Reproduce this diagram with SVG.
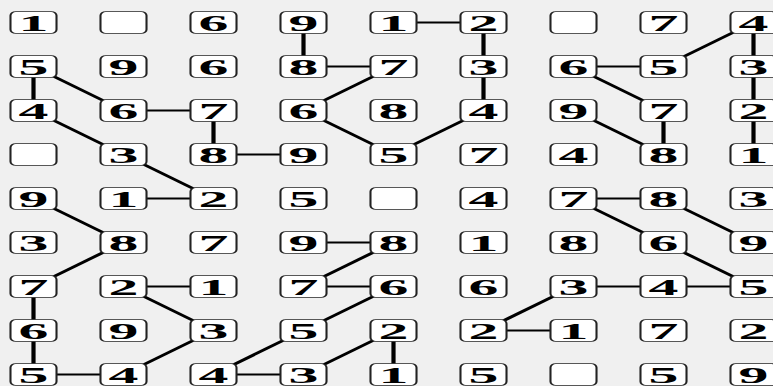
<svg xmlns="http://www.w3.org/2000/svg" xmlns:xlink="http://www.w3.org/1999/xlink" width="773" height="386" viewBox="0 0 773 386">
<style>
.c line{stroke:#000;stroke-linecap:butt}
.v{stroke-width:4.2}
.h{stroke-width:2.2}
.d{stroke-width:3}
.t{font-family:"Liberation Serif","Times New Roman",serif;font-weight:bold;font-size:23px;text-anchor:middle;fill:#000}
</style>
<defs>
<g id="box" transform="scale(2.6,1)"><rect x="-8.85" y="-10.9" width="17.7" height="21.8" rx="2" ry="4" fill="#fff" stroke="#222" stroke-width="0.8"/></g>
</defs>
<rect width="773" height="386" fill="#f0f0f0"/>
<g id="connectors" class="c">
<line class="v" x1="303.5" y1="22.5" x2="303.5" y2="66.5"/>
<line class="v" x1="483.5" y1="22.5" x2="483.5" y2="66.5"/>
<line class="v" x1="753.5" y1="22.5" x2="753.5" y2="66.5"/>
<line class="v" x1="33.5" y1="66.5" x2="33.5" y2="110.5"/>
<line class="v" x1="483.5" y1="66.5" x2="483.5" y2="110.5"/>
<line class="v" x1="753.5" y1="66.5" x2="753.5" y2="110.5"/>
<line class="v" x1="213.5" y1="110.5" x2="213.5" y2="154.5"/>
<line class="v" x1="663.5" y1="110.5" x2="663.5" y2="154.5"/>
<line class="v" x1="753.5" y1="110.5" x2="753.5" y2="154.5"/>
<line class="v" x1="33.5" y1="286.5" x2="33.5" y2="330.5"/>
<line class="v" x1="33.5" y1="330.5" x2="33.5" y2="374.5"/>
<line class="v" x1="393.5" y1="330.5" x2="393.5" y2="374.5"/>
<line class="h" x1="393.5" y1="22.5" x2="483.5" y2="22.5"/>
<line class="h" x1="303.5" y1="66.5" x2="393.5" y2="66.5"/>
<line class="h" x1="573.5" y1="66.5" x2="663.5" y2="66.5"/>
<line class="h" x1="123.5" y1="110.5" x2="213.5" y2="110.5"/>
<line class="h" x1="213.5" y1="154.5" x2="303.5" y2="154.5"/>
<line class="h" x1="123.5" y1="198.5" x2="213.5" y2="198.5"/>
<line class="h" x1="573.5" y1="198.5" x2="663.5" y2="198.5"/>
<line class="h" x1="303.5" y1="242.5" x2="393.5" y2="242.5"/>
<line class="h" x1="123.5" y1="286.5" x2="213.5" y2="286.5"/>
<line class="h" x1="303.5" y1="286.5" x2="393.5" y2="286.5"/>
<line class="h" x1="573.5" y1="286.5" x2="663.5" y2="286.5"/>
<line class="h" x1="663.5" y1="286.5" x2="753.5" y2="286.5"/>
<line class="h" x1="483.5" y1="330.5" x2="573.5" y2="330.5"/>
<line class="h" x1="33.5" y1="374.5" x2="123.5" y2="374.5"/>
<line class="h" x1="213.5" y1="374.5" x2="303.5" y2="374.5"/>
<line class="d" x1="753.5" y1="22.5" x2="663.5" y2="66.5"/>
<line class="d" x1="33.5" y1="66.5" x2="123.5" y2="110.5"/>
<line class="d" x1="393.5" y1="66.5" x2="303.5" y2="110.5"/>
<line class="d" x1="573.5" y1="66.5" x2="663.5" y2="110.5"/>
<line class="d" x1="33.5" y1="110.5" x2="123.5" y2="154.5"/>
<line class="d" x1="303.5" y1="110.5" x2="393.5" y2="154.5"/>
<line class="d" x1="483.5" y1="110.5" x2="393.5" y2="154.5"/>
<line class="d" x1="573.5" y1="110.5" x2="663.5" y2="154.5"/>
<line class="d" x1="123.5" y1="154.5" x2="213.5" y2="198.5"/>
<line class="d" x1="33.5" y1="198.5" x2="123.5" y2="242.5"/>
<line class="d" x1="573.5" y1="198.5" x2="663.5" y2="242.5"/>
<line class="d" x1="663.5" y1="198.5" x2="753.5" y2="242.5"/>
<line class="d" x1="123.5" y1="242.5" x2="33.5" y2="286.5"/>
<line class="d" x1="393.5" y1="242.5" x2="303.5" y2="286.5"/>
<line class="d" x1="663.5" y1="242.5" x2="753.5" y2="286.5"/>
<line class="d" x1="123.5" y1="286.5" x2="213.5" y2="330.5"/>
<line class="d" x1="393.5" y1="286.5" x2="303.5" y2="330.5"/>
<line class="d" x1="573.5" y1="286.5" x2="483.5" y2="330.5"/>
<line class="d" x1="213.5" y1="330.5" x2="123.5" y2="374.5"/>
<line class="d" x1="303.5" y1="330.5" x2="213.5" y2="374.5"/>
<line class="d" x1="393.5" y1="330.5" x2="303.5" y2="374.5"/>
</g>
<g id="n00" transform="translate(33.5,22.5)"><use xlink:href="#box"/><text class="t" y="8" transform="scale(2.6,1)">1</text></g>
<g id="n01" transform="translate(123.5,22.5)"><use xlink:href="#box"/></g>
<g id="n02" transform="translate(213.5,22.5)"><use xlink:href="#box"/><text class="t" y="8" transform="scale(2.6,1)">6</text></g>
<g id="n03" transform="translate(303.5,22.5)"><use xlink:href="#box"/><text class="t" y="8" transform="scale(2.6,1)">9</text></g>
<g id="n04" transform="translate(393.5,22.5)"><use xlink:href="#box"/><text class="t" y="8" transform="scale(2.6,1)">1</text></g>
<g id="n05" transform="translate(483.5,22.5)"><use xlink:href="#box"/><text class="t" y="8" transform="scale(2.6,1)">2</text></g>
<g id="n06" transform="translate(573.5,22.5)"><use xlink:href="#box"/></g>
<g id="n07" transform="translate(663.5,22.5)"><use xlink:href="#box"/><text class="t" y="8" transform="scale(2.6,1)">7</text></g>
<g id="n08" transform="translate(753.5,22.5)"><use xlink:href="#box"/><text class="t" y="8" transform="scale(2.6,1)">4</text></g>
<g id="n10" transform="translate(33.5,66.5)"><use xlink:href="#box"/><text class="t" y="8" transform="scale(2.6,1)">5</text></g>
<g id="n11" transform="translate(123.5,66.5)"><use xlink:href="#box"/><text class="t" y="8" transform="scale(2.6,1)">9</text></g>
<g id="n12" transform="translate(213.5,66.5)"><use xlink:href="#box"/><text class="t" y="8" transform="scale(2.6,1)">6</text></g>
<g id="n13" transform="translate(303.5,66.5)"><use xlink:href="#box"/><text class="t" y="8" transform="scale(2.6,1)">8</text></g>
<g id="n14" transform="translate(393.5,66.5)"><use xlink:href="#box"/><text class="t" y="8" transform="scale(2.6,1)">7</text></g>
<g id="n15" transform="translate(483.5,66.5)"><use xlink:href="#box"/><text class="t" y="8" transform="scale(2.6,1)">3</text></g>
<g id="n16" transform="translate(573.5,66.5)"><use xlink:href="#box"/><text class="t" y="8" transform="scale(2.6,1)">6</text></g>
<g id="n17" transform="translate(663.5,66.5)"><use xlink:href="#box"/><text class="t" y="8" transform="scale(2.6,1)">5</text></g>
<g id="n18" transform="translate(753.5,66.5)"><use xlink:href="#box"/><text class="t" y="8" transform="scale(2.6,1)">3</text></g>
<g id="n20" transform="translate(33.5,110.5)"><use xlink:href="#box"/><text class="t" y="8" transform="scale(2.6,1)">4</text></g>
<g id="n21" transform="translate(123.5,110.5)"><use xlink:href="#box"/><text class="t" y="8" transform="scale(2.6,1)">6</text></g>
<g id="n22" transform="translate(213.5,110.5)"><use xlink:href="#box"/><text class="t" y="8" transform="scale(2.6,1)">7</text></g>
<g id="n23" transform="translate(303.5,110.5)"><use xlink:href="#box"/><text class="t" y="8" transform="scale(2.6,1)">6</text></g>
<g id="n24" transform="translate(393.5,110.5)"><use xlink:href="#box"/><text class="t" y="8" transform="scale(2.6,1)">8</text></g>
<g id="n25" transform="translate(483.5,110.5)"><use xlink:href="#box"/><text class="t" y="8" transform="scale(2.6,1)">4</text></g>
<g id="n26" transform="translate(573.5,110.5)"><use xlink:href="#box"/><text class="t" y="8" transform="scale(2.6,1)">9</text></g>
<g id="n27" transform="translate(663.5,110.5)"><use xlink:href="#box"/><text class="t" y="8" transform="scale(2.6,1)">7</text></g>
<g id="n28" transform="translate(753.5,110.5)"><use xlink:href="#box"/><text class="t" y="8" transform="scale(2.6,1)">2</text></g>
<g id="n30" transform="translate(33.5,154.5)"><use xlink:href="#box"/></g>
<g id="n31" transform="translate(123.5,154.5)"><use xlink:href="#box"/><text class="t" y="8" transform="scale(2.6,1)">3</text></g>
<g id="n32" transform="translate(213.5,154.5)"><use xlink:href="#box"/><text class="t" y="8" transform="scale(2.6,1)">8</text></g>
<g id="n33" transform="translate(303.5,154.5)"><use xlink:href="#box"/><text class="t" y="8" transform="scale(2.6,1)">9</text></g>
<g id="n34" transform="translate(393.5,154.5)"><use xlink:href="#box"/><text class="t" y="8" transform="scale(2.6,1)">5</text></g>
<g id="n35" transform="translate(483.5,154.5)"><use xlink:href="#box"/><text class="t" y="8" transform="scale(2.6,1)">7</text></g>
<g id="n36" transform="translate(573.5,154.5)"><use xlink:href="#box"/><text class="t" y="8" transform="scale(2.6,1)">4</text></g>
<g id="n37" transform="translate(663.5,154.5)"><use xlink:href="#box"/><text class="t" y="8" transform="scale(2.6,1)">8</text></g>
<g id="n38" transform="translate(753.5,154.5)"><use xlink:href="#box"/><text class="t" y="8" transform="scale(2.6,1)">1</text></g>
<g id="n40" transform="translate(33.5,198.5)"><use xlink:href="#box"/><text class="t" y="8" transform="scale(2.6,1)">9</text></g>
<g id="n41" transform="translate(123.5,198.5)"><use xlink:href="#box"/><text class="t" y="8" transform="scale(2.6,1)">1</text></g>
<g id="n42" transform="translate(213.5,198.5)"><use xlink:href="#box"/><text class="t" y="8" transform="scale(2.6,1)">2</text></g>
<g id="n43" transform="translate(303.5,198.5)"><use xlink:href="#box"/><text class="t" y="8" transform="scale(2.6,1)">5</text></g>
<g id="n44" transform="translate(393.5,198.5)"><use xlink:href="#box"/></g>
<g id="n45" transform="translate(483.5,198.5)"><use xlink:href="#box"/><text class="t" y="8" transform="scale(2.6,1)">4</text></g>
<g id="n46" transform="translate(573.5,198.5)"><use xlink:href="#box"/><text class="t" y="8" transform="scale(2.6,1)">7</text></g>
<g id="n47" transform="translate(663.5,198.5)"><use xlink:href="#box"/><text class="t" y="8" transform="scale(2.6,1)">8</text></g>
<g id="n48" transform="translate(753.5,198.5)"><use xlink:href="#box"/><text class="t" y="8" transform="scale(2.6,1)">3</text></g>
<g id="n50" transform="translate(33.5,242.5)"><use xlink:href="#box"/><text class="t" y="8" transform="scale(2.6,1)">3</text></g>
<g id="n51" transform="translate(123.5,242.5)"><use xlink:href="#box"/><text class="t" y="8" transform="scale(2.6,1)">8</text></g>
<g id="n52" transform="translate(213.5,242.5)"><use xlink:href="#box"/><text class="t" y="8" transform="scale(2.6,1)">7</text></g>
<g id="n53" transform="translate(303.5,242.5)"><use xlink:href="#box"/><text class="t" y="8" transform="scale(2.6,1)">9</text></g>
<g id="n54" transform="translate(393.5,242.5)"><use xlink:href="#box"/><text class="t" y="8" transform="scale(2.6,1)">8</text></g>
<g id="n55" transform="translate(483.5,242.5)"><use xlink:href="#box"/><text class="t" y="8" transform="scale(2.6,1)">1</text></g>
<g id="n56" transform="translate(573.5,242.5)"><use xlink:href="#box"/><text class="t" y="8" transform="scale(2.6,1)">8</text></g>
<g id="n57" transform="translate(663.5,242.5)"><use xlink:href="#box"/><text class="t" y="8" transform="scale(2.6,1)">6</text></g>
<g id="n58" transform="translate(753.5,242.5)"><use xlink:href="#box"/><text class="t" y="8" transform="scale(2.6,1)">9</text></g>
<g id="n60" transform="translate(33.5,286.5)"><use xlink:href="#box"/><text class="t" y="8" transform="scale(2.6,1)">7</text></g>
<g id="n61" transform="translate(123.5,286.5)"><use xlink:href="#box"/><text class="t" y="8" transform="scale(2.6,1)">2</text></g>
<g id="n62" transform="translate(213.5,286.5)"><use xlink:href="#box"/><text class="t" y="8" transform="scale(2.6,1)">1</text></g>
<g id="n63" transform="translate(303.5,286.5)"><use xlink:href="#box"/><text class="t" y="8" transform="scale(2.6,1)">7</text></g>
<g id="n64" transform="translate(393.5,286.5)"><use xlink:href="#box"/><text class="t" y="8" transform="scale(2.6,1)">6</text></g>
<g id="n65" transform="translate(483.5,286.5)"><use xlink:href="#box"/><text class="t" y="8" transform="scale(2.6,1)">6</text></g>
<g id="n66" transform="translate(573.5,286.5)"><use xlink:href="#box"/><text class="t" y="8" transform="scale(2.6,1)">3</text></g>
<g id="n67" transform="translate(663.5,286.5)"><use xlink:href="#box"/><text class="t" y="8" transform="scale(2.6,1)">4</text></g>
<g id="n68" transform="translate(753.5,286.5)"><use xlink:href="#box"/><text class="t" y="8" transform="scale(2.6,1)">5</text></g>
<g id="n70" transform="translate(33.5,330.5)"><use xlink:href="#box"/><text class="t" y="8" transform="scale(2.6,1)">6</text></g>
<g id="n71" transform="translate(123.5,330.5)"><use xlink:href="#box"/><text class="t" y="8" transform="scale(2.6,1)">9</text></g>
<g id="n72" transform="translate(213.5,330.5)"><use xlink:href="#box"/><text class="t" y="8" transform="scale(2.6,1)">3</text></g>
<g id="n73" transform="translate(303.5,330.5)"><use xlink:href="#box"/><text class="t" y="8" transform="scale(2.6,1)">5</text></g>
<g id="n74" transform="translate(393.5,330.5)"><use xlink:href="#box"/><text class="t" y="8" transform="scale(2.6,1)">2</text></g>
<g id="n75" transform="translate(483.5,330.5)"><use xlink:href="#box"/><text class="t" y="8" transform="scale(2.6,1)">2</text></g>
<g id="n76" transform="translate(573.5,330.5)"><use xlink:href="#box"/><text class="t" y="8" transform="scale(2.6,1)">1</text></g>
<g id="n77" transform="translate(663.5,330.5)"><use xlink:href="#box"/><text class="t" y="8" transform="scale(2.6,1)">7</text></g>
<g id="n78" transform="translate(753.5,330.5)"><use xlink:href="#box"/><text class="t" y="8" transform="scale(2.6,1)">2</text></g>
<g id="n80" transform="translate(33.5,374.5)"><use xlink:href="#box"/><text class="t" y="8" transform="scale(2.6,1)">5</text></g>
<g id="n81" transform="translate(123.5,374.5)"><use xlink:href="#box"/><text class="t" y="8" transform="scale(2.6,1)">4</text></g>
<g id="n82" transform="translate(213.5,374.5)"><use xlink:href="#box"/><text class="t" y="8" transform="scale(2.6,1)">4</text></g>
<g id="n83" transform="translate(303.5,374.5)"><use xlink:href="#box"/><text class="t" y="8" transform="scale(2.6,1)">3</text></g>
<g id="n84" transform="translate(393.5,374.5)"><use xlink:href="#box"/><text class="t" y="8" transform="scale(2.6,1)">1</text></g>
<g id="n85" transform="translate(483.5,374.5)"><use xlink:href="#box"/><text class="t" y="8" transform="scale(2.6,1)">5</text></g>
<g id="n86" transform="translate(573.5,374.5)"><use xlink:href="#box"/></g>
<g id="n87" transform="translate(663.5,374.5)"><use xlink:href="#box"/><text class="t" y="8" transform="scale(2.6,1)">5</text></g>
<g id="n88" transform="translate(753.5,374.5)"><use xlink:href="#box"/><text class="t" y="8" transform="scale(2.6,1)">9</text></g>
</svg>
